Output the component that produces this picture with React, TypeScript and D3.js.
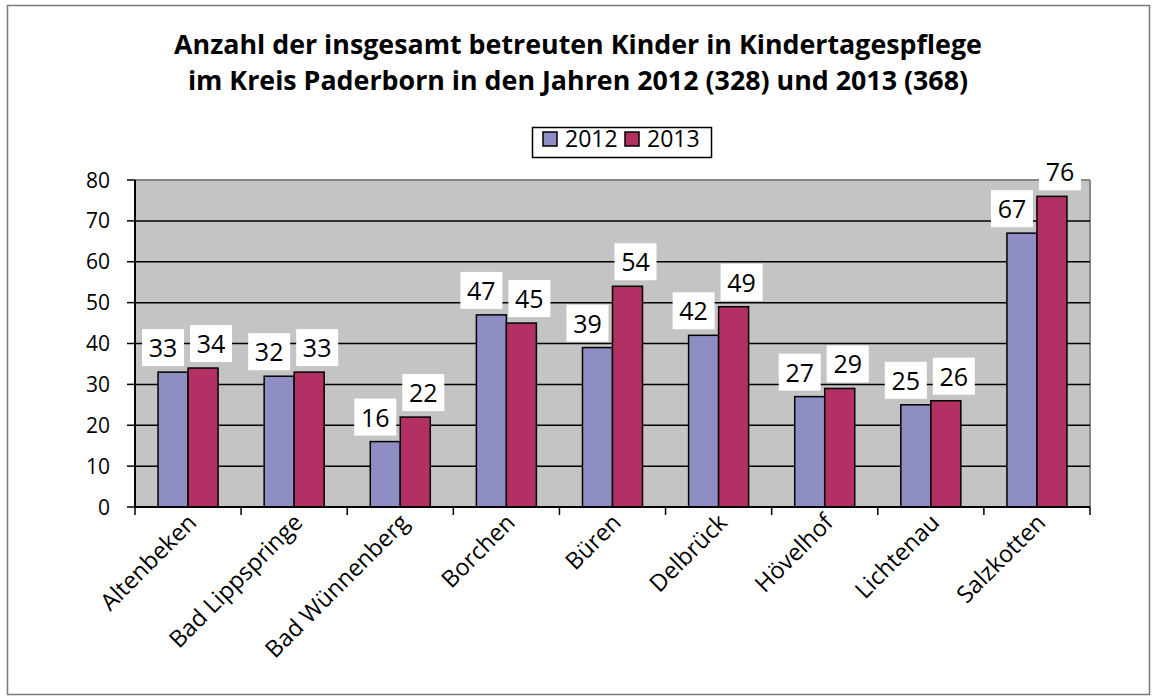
import React from "react";
import * as d3 from "d3";

const categories = [
  "Altenbeken",
  "Bad Lippspringe",
  "Bad Wünnenberg",
  "Borchen",
  "Büren",
  "Delbrück",
  "Hövelhof",
  "Lichtenau",
  "Salzkotten",
];
const years = ["2012", "2013"];
const values2012 = [33, 32, 16, 47, 39, 42, 27, 25, 67];
const values2013 = [34, 33, 22, 45, 54, 49, 29, 26, 76];
const yTicks = [0, 10, 20, 30, 40, 50, 60, 70, 80];

const titleLines = [
  "Anzahl der insgesamt betreuten Kinder in Kindertagespflege",
  "im Kreis Paderborn in den Jahren 2012 (328) und 2013 (368)",
];

const colors = ["#8E8EC4", "#B23063"];
const font = "'Open Sans', 'DejaVu Sans', sans-serif";

export default function App() {
  const width = 1156;
  const height = 700;
  const plot = { left: 135, right: 1090, top: 180, bottom: 507 };

  const x = d3.scaleBand<string>().domain(categories).range([plot.left, plot.right]).padding(0);
  const xs = d3.scaleBand<string>().domain(years).range([0, x.bandwidth()]).paddingInner(0).paddingOuter(0.768);
  const y = d3.scaleLinear().domain([0, 80]).range([plot.bottom, plot.top]);

  const series = [values2012, values2013];
  const boxW = 42;
  const boxH = 37;

  return (
    <svg
      width={width}
      height={height}
      style={{ position: "absolute", left: 0, top: 0, background: "#fff" }}
      fontFamily={font}
    >
      <rect x={7.5} y={5.5} width={1142} height={689} fill="#fff" stroke="#7a7a7a" strokeWidth={1.5} />

      {/* title */}
      {titleLines.map((t, i) => (
        <text key={i} x={578} y={53.5 + i * 36.5} textAnchor="middle" fontSize={26.8} fontWeight="bold" fill="#000">
          {t}
        </text>
      ))}

      {/* legend */}
      <g>
        <rect x={532.5} y={127.5} width={179} height={30} fill="#fff" stroke="#000" strokeWidth={1.5} />
        {years.map((yr, i) => (
          <g key={yr} transform={`translate(${543 + i * 82},132)`}>
            <rect x={0} y={0} width={14} height={14} fill={colors[i]} stroke="#000" strokeWidth={1.5} />
            <text x={22} y={15} fontSize={23} fill="#000">
              {yr}
            </text>
          </g>
        ))}
      </g>

      {/* plot background */}
      <rect x={plot.left} y={plot.top} width={plot.right - plot.left} height={plot.bottom - plot.top} fill="#C4C4C4" />
      <line x1={plot.left} x2={plot.right} y1={plot.top} y2={plot.top} stroke="#888" strokeWidth={2} />
      <line x1={plot.right} x2={plot.right} y1={plot.top} y2={plot.bottom} stroke="#888" strokeWidth={2} />

      {/* gridlines */}
      {yTicks
        .filter((t) => t > 0 && t < 80)
        .map((t) => (
          <line key={t} x1={plot.left} x2={plot.right} y1={y(t)} y2={y(t)} stroke="#000" strokeWidth={1.5} />
        ))}

      {/* bars */}
      {categories.map((c, ci) => (
        <g key={c}>
          {years.map((yr, si) => {
            const v = series[si][ci];
            const bx = (x(c) ?? 0) + (xs(yr) ?? 0);
            return (
              <rect
                key={yr}
                x={bx}
                y={y(v)}
                width={xs.bandwidth()}
                height={y(0) - y(v)}
                fill={colors[si]}
                stroke="#000"
                strokeWidth={1.5}
              />
            );
          })}
        </g>
      ))}

      {/* data labels */}
      {categories.map((c, ci) => {
        const mid = (x(c) ?? 0) + (xs("2013") ?? 0) - 1;
        return (
          <g key={c}>
            {years.map((yr, si) => {
              const v = series[si][ci];
              const bx = si === 0 ? mid - 3 - boxW : mid + 3;
              const by = y(v) - 6 - boxH;
              return (
                <g key={yr}>
                  <rect x={bx} y={by} width={boxW} height={boxH} fill="#fff" />
                  <text x={bx + boxW / 2} y={by + 28} textAnchor="middle" fontSize={25} fill="#000">
                    {v}
                  </text>
                </g>
              );
            })}
          </g>
        );
      })}

      {/* y axis */}
      <line x1={plot.left} x2={plot.left} y1={plot.top} y2={plot.bottom} stroke="#000" strokeWidth={2} />
      {yTicks.map((t) => (
        <g key={t}>
          <line x1={plot.left - 8} x2={plot.left} y1={y(t)} y2={y(t)} stroke="#000" strokeWidth={1.5} />
          <text x={110} y={y(t) + 7.5} textAnchor="end" fontSize={21} fill="#000">
            {t}
          </text>
        </g>
      ))}

      {/* x axis */}
      <line x1={plot.left} x2={plot.right} y1={plot.bottom} y2={plot.bottom} stroke="#000" strokeWidth={2} />
      {[...categories.map((c) => x(c) ?? 0), plot.right].map((px, i) => (
        <line key={i} x1={px} x2={px} y1={plot.bottom} y2={plot.bottom + 8} stroke="#000" strokeWidth={1.5} />
      ))}
      {categories.map((c) => {
        const cx = (x(c) ?? 0) + x.bandwidth() / 2 + 10;
        return (
          <text
            key={c}
            transform={`translate(${cx},524) rotate(-45)`}
            textAnchor="end"
            fontSize={23.5}
            fill="#000"
          >
            {c}
          </text>
        );
      })}
    </svg>
  );
}
